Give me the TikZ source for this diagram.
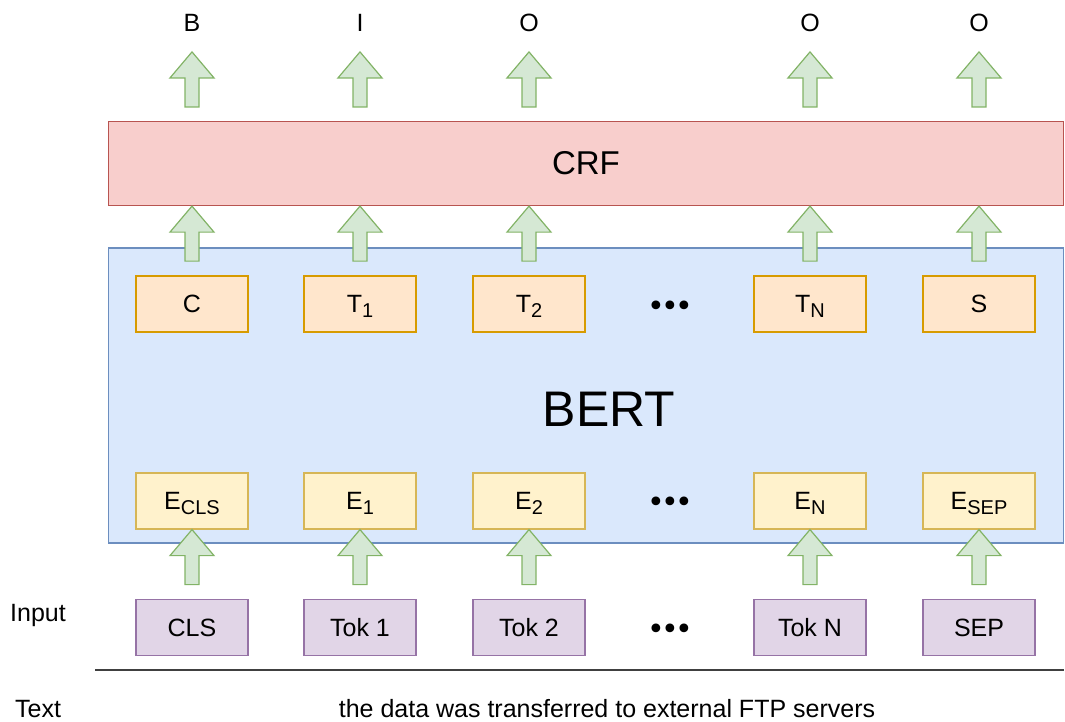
\documentclass[tikz,border=0pt]{standalone}
\usepackage{fontspec}
\setmainfont{Liberation Sans}
\newfontfamily\dotfont{DejaVu Sans}
\usetikzlibrary{calc}
\definecolor{grnF}{HTML}{D5E8D4}\definecolor{grnS}{HTML}{82B366}
\definecolor{redF}{HTML}{F8CECC}\definecolor{redS}{HTML}{B85450}
\definecolor{bluF}{HTML}{DAE8FC}\definecolor{bluS}{HTML}{6C8EBF}
\definecolor{orgF}{HTML}{FFE6CC}\definecolor{orgS}{HTML}{D79B00}
\definecolor{ylwF}{HTML}{FFF2CC}\definecolor{ylwS}{HTML}{D6B656}
\definecolor{purF}{HTML}{E1D5E7}\definecolor{purS}{HTML}{9673A6}
\definecolor{lineC}{HTML}{404040}
\newcommand\lbl{\fontsize{25}{29}\selectfont}
\newcommand\subs[1]{\raisebox{-4.5pt}{\fontsize{20}{22}\selectfont #1}}
\newcommand\threedots{\dotfont\fontsize{30}{34}\selectfont •\kern-3.7pt•\kern-3.7pt•}
\newcommand\fatarrow[1]{\path[fat] (#1) -- ++(22,26) -- ++(-15,0) -- ++(0,29) -- ++(-14,0) -- ++(0,-29) -- ++(-15,0) -- cycle;}
\begin{document}
\begin{tikzpicture}[x=1pt,y=-1pt,
  cell/.style={minimum width=112pt,minimum height=56pt,inner sep=0pt,line width=1.2pt,font=\lbl,text height=17.9pt,text depth=0pt},
  tbox/.style={cell,draw=orgS,fill=orgF},
  ebox/.style={cell,draw=ylwS,fill=ylwF},
  ibox/.style={cell,draw=purS,fill=purF},
  fat/.style={draw=grnS,fill=grnF,line width=1.2pt,line join=miter},
  txt/.style={font=\lbl,inner sep=0pt},
  dotsn/.style={inner sep=0pt}]
\useasboundingbox (0,0) rectangle (1065,721);
% layers
\node[draw=redS,fill=redF,line width=1.2pt,minimum width=955pt,minimum height=84pt,inner sep=0pt,font=\fontsize{33}{38}\selectfont] (crf) at (586,163.5) {CRF};
\node[draw=bluS,fill=bluF,line width=1.2pt,minimum width=955pt,minimum height=295pt,inner sep=0pt] (bert) at (586,395.5) {};
\node[inner sep=0pt,font=\fontsize{50}{56}\selectfont] (bertlbl) at (609,409) {BERT};
% rows
\foreach \i/\x/\tl/\el/\il/\ol in {0/192/C/E\subs{CLS}/CLS/B,1/360/T\subs{1}/E\subs{1}/Tok 1/I,2/529/T\subs{2}/E\subs{2}/Tok 2/O,3/810/T\subs{N}/E\subs{N}/Tok N/O,4/979/S/E\subs{SEP}/SEP/O}{
  \node[tbox] (t\i) at (\x,304) {\tl};
  \node[ebox] (e\i) at (\x,501) {\el};
  \node[ibox] (in\i) at (\x,627.5) {\il};
  \node[txt,anchor=base] (out\i) at (\x,31) {\ol};
}
% dots
\node[dotsn] (d1) at (670,308.5) {\threedots};
\node[dotsn] (d2) at (670,505) {\threedots};
\node[dotsn] (d3) at (670,631.5) {\threedots};
% fat arrows
\foreach \i in {0,...,4}{
  \fatarrow{$(crf.north -| t\i)+(0,-69)$}
  \fatarrow{crf.south -| t\i}
  \fatarrow{e\i.south}
}
% side labels and rule
\node[txt,anchor=base] (inlbl) at (38,621.5) {Input};
\node[txt,anchor=base] (txtlbl) at (38,717) {Text};
\node[txt,anchor=base] (sent) at (607,717) {the data was transferred to external FTP servers};
\coordinate (rl) at (95,670);
\coordinate (rr) at (1064,670);
\draw[lineC,line width=1.3pt] (rl) -- (rr);
\end{tikzpicture}
\end{document}
